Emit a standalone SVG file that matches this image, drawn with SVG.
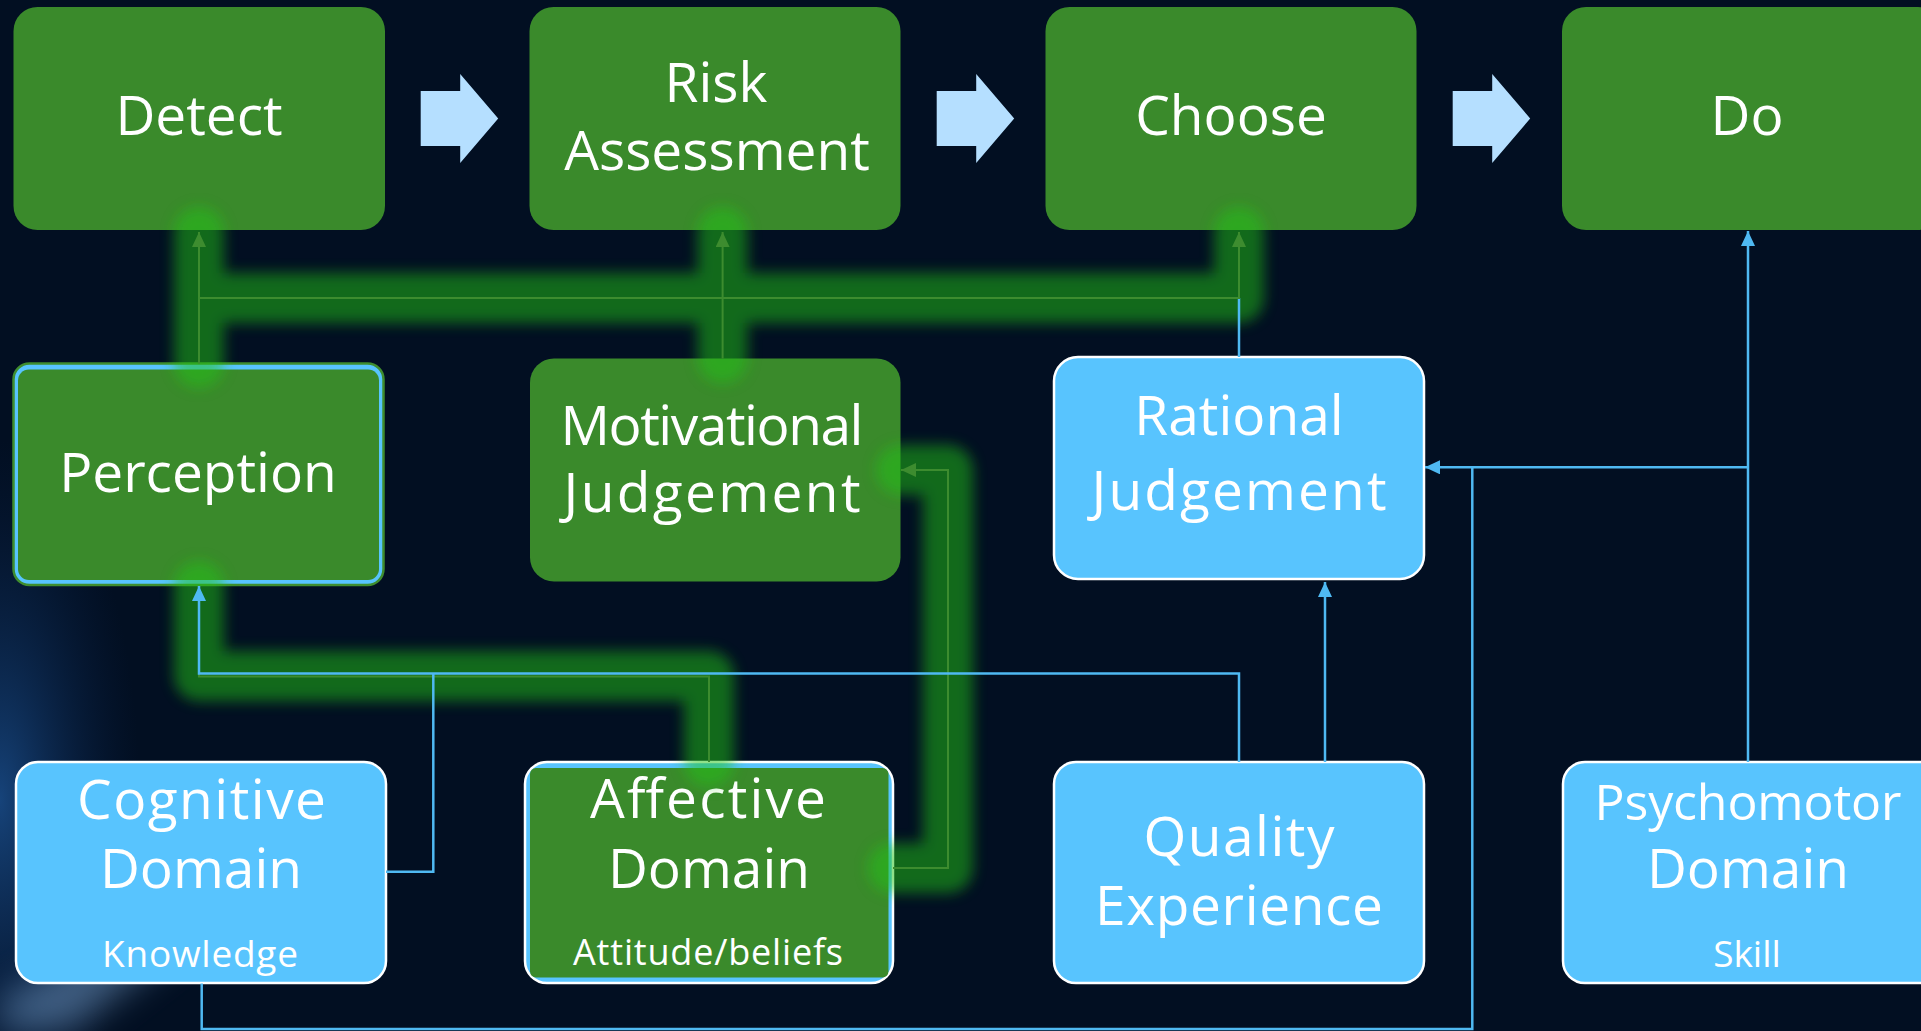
<svg xmlns="http://www.w3.org/2000/svg" width="1921" height="1031" viewBox="0 0 1921 1031">
<defs>
<style>
.g{fill:#3a8a2b}
.b{fill:#58c4fe;stroke:#ffffff;stroke-width:2.5}
.t{font-family:"Open Sans","Noto Sans",sans-serif;fill:#ffffff;text-anchor:middle}
.l{font-size:55px}
.s{font-size:37px}
.bl{fill:none;stroke:#4fb9f2;stroke-width:2.5}
.gl{fill:none;stroke:#3d8c2f;stroke-width:2}
.arr{fill:#b5dfff}
.glow{fill:none;stroke:#20c416;stroke-width:50;stroke-linecap:round;stroke-linejoin:round}
</style>
<filter id="blur" filterUnits="userSpaceOnUse" x="0" y="0" width="1921" height="1031">
<feGaussianBlur stdDeviation="7"/>
</filter>
<filter id="soft" filterUnits="userSpaceOnUse" x="-100" y="-100" width="2121" height="1231">
<feGaussianBlur stdDeviation="18"/>
</filter>
<radialGradient id="bgl" cx="0.5" cy="0.5" r="0.5">
<stop offset="0" stop-color="#1f5aa0" stop-opacity="0.7"/>
<stop offset="1" stop-color="#0a2550" stop-opacity="0"/>
</radialGradient>
<marker id="ab" markerUnits="userSpaceOnUse" markerWidth="16" markerHeight="14" refX="15" refY="7" orient="auto">
<path d="M0,0 L15,7 L0,14 Z" fill="#4fb9f2"/>
</marker>
<marker id="ag" markerUnits="userSpaceOnUse" markerWidth="16" markerHeight="14" refX="15" refY="7" orient="auto">
<path d="M0,0 L15,7 L0,14 Z" fill="#3d8c2f"/>
</marker>
</defs>

<rect x="0" y="0" width="1921" height="1031" fill="#020f22"/>
<ellipse cx="0" cy="800" rx="140" ry="360" fill="url(#bgl)"/>
<path d="M0,1031 L70,1031 L200,930 L150,915 L0,1000 Z" fill="#7aa6d4" opacity="0.5" filter="url(#soft)"/>

<g id="detect">
<rect class="g" x="13.5" y="7" width="371.5" height="223" rx="24"/>
<text class="t l" x="199" y="135">Detect</text>
</g>
<g id="risk-assessment">
<rect class="g" x="529.5" y="7" width="371" height="223" rx="24"/>
<text class="t l" x="716" y="101.7">Risk</text>
<text class="t l" x="717" y="170">Assessment</text>
</g>
<g id="choose">
<rect class="g" x="1045.5" y="7" width="371" height="223" rx="24"/>
<text class="t l" x="1231" y="135">Choose</text>
</g>
<g id="do">
<rect class="g" x="1562" y="7" width="380" height="223" rx="24"/>
<text class="t l" x="1747" y="135">Do</text>
</g>

<g id="flow-arrows">
<path class="arr" d="M420.7,91 H460.2 V74 L498.2,118.5 L460.2,163 V146 H420.7 Z"/>
<path class="arr" d="M936.7,91 H976.2 V74 L1014.2,118.5 L976.2,163 V146 H936.7 Z"/>
<path class="arr" d="M1452.7,91 H1492.2 V74 L1530.2,118.5 L1492.2,163 V146 H1452.7 Z"/>
</g>

<g id="perception">
<rect x="13.5" y="363.5" width="370" height="221.5" rx="16" fill="#58c4fe" stroke="#3f8d2e" stroke-width="2.5"/>
<rect class="g" x="18" y="369.5" width="361" height="210.5" rx="11"/>
<text class="t l" x="198" y="491.7">Perception</text>
</g>
<g id="motivational-judgement">
<rect class="g" x="530" y="358.5" width="370.5" height="223" rx="24"/>
<text class="t l" x="712" y="445" textLength="303">Motivational</text>
<text class="t l" x="712" y="511.7" textLength="297">Judgement</text>
</g>
<g id="rational-judgement">
<rect class="b" x="1054" y="357" width="370" height="222" rx="24"/>
<text class="t l" x="1239" y="435">Rational</text>
<text class="t l" x="1239" y="510" textLength="295">Judgement</text>
</g>

<g id="cognitive-domain">
<rect class="b" x="16" y="762" width="370" height="221" rx="22"/>
<text class="t l" x="201.5" y="819" textLength="249">Cognitive</text>
<text class="t l" x="201" y="888">Domain</text>
<text class="t s" x="200" y="966.7" textLength="196">Knowledge</text>
</g>
<g id="affective-domain">
<rect class="b" x="525" y="762" width="368" height="221" rx="22"/>
<rect class="g" x="530" y="768" width="358.5" height="209.5" rx="6"/>
<text class="t l" x="708" y="818" textLength="236">Affective</text>
<text class="t l" x="709" y="888">Domain</text>
<text class="t" style="font-size:36px" x="708" y="965" textLength="270">Attitude/beliefs</text>
</g>
<g id="quality-experience">
<rect class="b" x="1054" y="762" width="370" height="221" rx="22"/>
<text class="t l" x="1239" y="855.6" textLength="191">Quality</text>
<text class="t l" x="1239" y="925" textLength="288">Experience</text>
</g>
<g id="psychomotor-domain">
<rect class="b" x="1563" y="762" width="380" height="221" rx="22"/>
<text class="t" style="font-size:50px" x="1748" y="820" textLength="307">Psychomotor</text>
<text class="t l" x="1748" y="888">Domain</text>
<text class="t s" x="1747" y="966.7">Skill</text>
</g>

<g id="connectors">
<g filter="url(#blur)" opacity="0.5">
<path class="glow" d="M199,232 V298 H1239 V232 M199,298 V363 M722.6,232 V358.5"/>
<path class="glow" d="M709,762 V676 H199 V586"/>
<path class="glow" d="M893,868 H948 V470 H901"/>
</g>
<path class="bl" d="M1239,357 V298"/>
<path class="gl" d="M199,363.5 V232" marker-end="url(#ag)"/>
<path class="gl" d="M199,298 H1239 V232" marker-end="url(#ag)"/>
<path class="gl" d="M722.6,358.5 V232" marker-end="url(#ag)"/>
<path class="gl" d="M709,762 V676.5 H199 V590"/>
<path class="gl" d="M893,868 H948 V470 H901" marker-end="url(#ag)"/>
<path class="bl" d="M386,871.7 H433.3 V673.5"/>
<path class="bl" d="M1239,762 V673.5 H199 V586" marker-end="url(#ab)"/>
<path class="bl" d="M1325,762 V582" marker-end="url(#ab)"/>
<path class="bl" d="M1748,762 V231" marker-end="url(#ab)"/>
<path class="bl" d="M1748,467.3 H1425" marker-end="url(#ab)"/>
<path class="bl" d="M201.7,983.5 V1029 H1472.3 V467.3"/>
</g>
</svg>
